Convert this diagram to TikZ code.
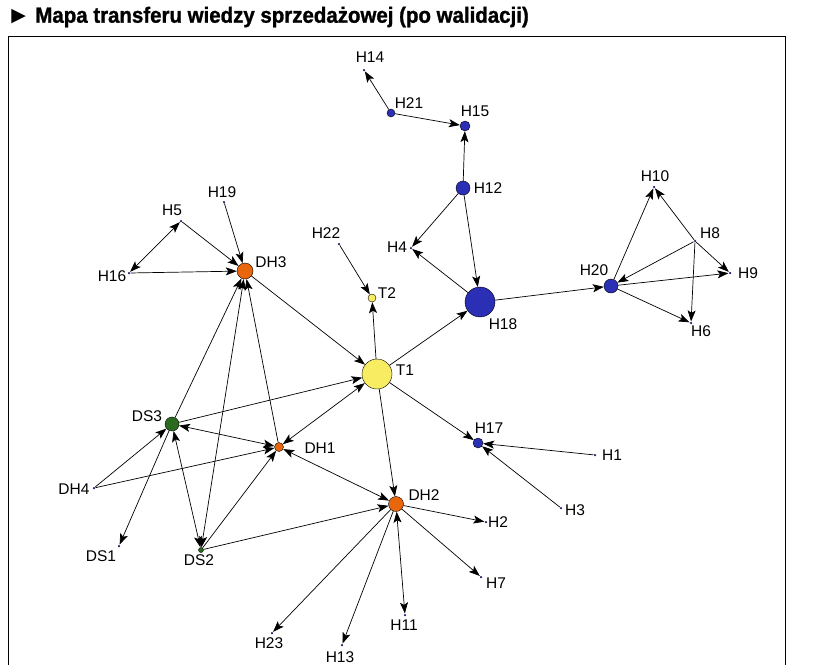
\documentclass[tikz,border=0pt]{standalone}
\usepackage{fontspec}
\setmainfont{Liberation Sans}
\newfontfamily\titlefont[FakeStretch=0.93,FakeBold=1.2]{Liberation Sans}
\newfontfamily\symfont{DejaVu Sans}
\usetikzlibrary{arrows.meta}
\definecolor{tyellow}{RGB}{247,236,98}
\definecolor{dorange}{RGB}{232,102,12}
\definecolor{hblue}{RGB}{43,47,181}
\definecolor{sgreen}{RGB}{42,106,30}
\tikzset{
	vtx/.style={shape=circle,draw=black,inner sep=0pt,line width=0.4pt},
	dot/.style={shape=circle,fill=hblue!60!black,inner sep=0pt,minimum size=2.5pt},
	lbl/.style={font=\fontsize{15.5}{15.5}\selectfont,inner sep=0pt},
	tip/.style={-{Stealth[length=11pt,width=8pt,inset=2.5pt]}},
	bitip/.style={{Stealth[length=11pt,width=8pt,inset=2.5pt]}-{Stealth[length=11pt,width=8pt,inset=2.5pt]}}
}
\begin{document}
\begin{tikzpicture}[x=1pt,y=-1pt,line width=0.7pt]
	\useasboundingbox (0,0) rectangle (835,665);
	% title and frame
	\node[anchor=west,inner sep=0pt,font=\symfont\fontsize{19}{19}\selectfont] (tri) at (11,17) {▶};
	\node[anchor=west,inner sep=0pt,font=\titlefont\bfseries\fontsize{22}{22}\selectfont] (title) at (35,17) {Mapa transferu wiedzy sprzedażowej (po walidacji)};
	\draw[line width=1pt] (8,665) -- (8,36) -- (785,36) -- (785,665);

	% vertices
	\node[vtx,fill=tyellow,minimum size=30pt] (T1) at (377,374) {};
	\node[vtx,fill=tyellow,minimum size=8pt] (T2) at (372,298) {};
	\node[vtx,fill=hblue,minimum size=30pt] (H18) at (480,302) {};
	\node[vtx,fill=hblue,minimum size=14pt] (H12) at (463,188) {};
	\node[vtx,fill=hblue,minimum size=14pt] (H20) at (611,286) {};
	\node[vtx,fill=hblue,minimum size=10pt] (H15) at (465,126) {};
	\node[vtx,fill=hblue,minimum size=8pt] (H21) at (391,113) {};
	\node[vtx,fill=hblue,minimum size=10pt] (H17) at (478,443) {};
	\node[vtx,fill=dorange,minimum size=16pt] (DH3) at (245,271) {};
	\node[vtx,fill=dorange,minimum size=15pt] (DH2) at (396,504) {};
	\node[vtx,fill=dorange,minimum size=9pt] (DH1) at (279,447) {};
	\node[vtx,fill=sgreen,minimum size=14pt] (DS3) at (172,424) {};
	\node[vtx,fill=sgreen,minimum size=5pt] (DS2) at (201,550) {};
	\node[dot] (H14) at (364,70) {};
	\node[dot] (H4) at (411,248) {};
	\node[dot] (H10) at (654,187) {};
	\node[dot] (H8) at (695,241) {};
	\node[dot] (H9) at (730,273) {};
	\node[dot] (H6) at (691,323) {};
	\node[dot] (H22) at (339,244) {};
	\node[dot] (H1) at (595,455) {};
	\node[dot] (H3) at (561,508) {};
	\node[dot] (H2) at (486,522) {};
	\node[dot] (H7) at (481,577) {};
	\node[dot] (H11) at (405,615) {};
	\node[dot] (H13) at (342,645) {};
	\node[dot] (H23) at (272,633) {};
	\node[dot] (DS1) at (119,546) {};
	\node[dot] (DH4) at (94,488) {};
	\node[dot] (H19) at (224,202) {};
	\node[dot] (H5) at (181,221) {};
	\node[dot] (H16) at (129,273) {};

	% labels
	\node[lbl] (lH14) at (370,57) {H14};
	\node[lbl] (lH21) at (409,103) {H21};
	\node[lbl] (lH15) at (475,111) {H15};
	\node[lbl] (lH12) at (488,188) {H12};
	\node[lbl] (lH4) at (397,247) {H4};
	\node[lbl] (lH18) at (503,324) {H18};
	\node[lbl] (lH20) at (594,270) {H20};
	\node[lbl] (lH10) at (655,176) {H10};
	\node[lbl] (lH8) at (710,233) {H8};
	\node[lbl] (lH9) at (748,273) {H9};
	\node[lbl] (lH6) at (701,331) {H6};
	\node[lbl] (lT2) at (387,293) {T2};
	\node[lbl] (lH22) at (326,233) {H22};
	\node[lbl] (lT1) at (405,370) {T1};
	\node[lbl] (lH17) at (489,428) {H17};
	\node[lbl] (lH1) at (612,455) {H1};
	\node[lbl] (lH3) at (575,510) {H3};
	\node[lbl] (lDH2) at (424,495) {DH2};
	\node[lbl] (lH2) at (498,522) {H2};
	\node[lbl] (lH7) at (496,583) {H7};
	\node[lbl] (lH11) at (404,625) {H11};
	\node[lbl] (lH13) at (340,657) {H13};
	\node[lbl] (lH23) at (269,643) {H23};
	\node[lbl] (lDS2) at (199,560) {DS2};
	\node[lbl] (lDS1) at (101,556) {DS1};
	\node[lbl] (lDH4) at (74,489) {DH4};
	\node[lbl] (lDS3) at (147,416) {DS3};
	\node[lbl] (lDH1) at (320,448) {DH1};
	\node[lbl] (lDH3) at (271,262) {DH3};
	\node[lbl] (lH19) at (222,192) {H19};
	\node[lbl] (lH5) at (172,210) {H5};
	\node[lbl] (lH16) at (112,276) {H16};

	% connectors
	\path [tip] (H21) edge (H14);
	\path [tip] (H21) edge (H15);
	\path [tip] (H12) edge (H15);
	\path [tip] (H12) edge (H4);
	\path [tip] (H12) edge (H18);
	\path [tip] (H18) edge (H4);
	\path [tip] (H18) edge (H20);
	\path [tip] (T1) edge (H18);
	\path [tip] (T1) edge (T2);
	\path [tip] (H22) edge (T2);
	\path [tip] (H20) edge (H10);
	\path [tip] (H20) edge (H9);
	\path [tip] (H20) edge (H6);
	\path [tip] (H8) edge (H10);
	\path [tip] (H8) edge (H20);
	\path [tip] (H8) edge (H9);
	\path [tip] (H8) edge (H6);
	\path [tip] (T1) edge (H17);
	\path [tip] (H1) edge (H17);
	\path [tip] (H3) edge (H17);
	\path [tip] (T1) edge (DH2);
	\path [tip] (DH2) edge (H2);
	\path [tip] (DH2) edge (H7);
	\path [tip] (DH2) edge (H13);
	\path [tip] (DH2) edge (H23);
	\path [bitip] (DH2) edge (H11);
	\path [tip] (DS2) edge (DH2);
	\path [bitip] (DH1) edge (DH2);
	\path [bitip] (DH1) edge (T1);
	\path [bitip] (DS3) edge (DH1);
	\path [bitip] (DS3) edge (DS2);
	\path [bitip] (DH3) edge (DS2);
	\path [tip] (DS3) edge (T1);
	\path [tip] (DS3) edge (DS1);
	\path [tip] (DS3) edge (DH3);
	\path [tip] (DH4) edge (DS3);
	\path [tip] (DH4) edge (DH1);
	\path [tip] (DS2) edge (DH1);
	\path [tip] (DH1) edge (DH3);
	\path [tip] (DH3) edge (T1);
	\path [tip] (H19) edge (DH3);
	\path [tip] (H5) edge (DH3);
	\path [tip] (H16) edge (DH3);
	\path [bitip] (H16) edge (H5);

\end{tikzpicture}
\end{document}
